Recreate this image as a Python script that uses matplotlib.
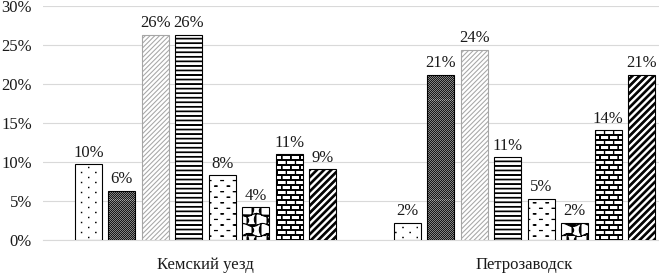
import numpy as np
import matplotlib
matplotlib.use("Agg")
import matplotlib.pyplot as plt
import matplotlib.hatch as mhatch
from matplotlib.path import Path
from matplotlib.ticker import FuncFormatter

# ---------------- data ----------------
categories = ["Кемский уезд", "Петрозаводск"]
values_kem = [9.7, 6.3, 26.3, 26.3, 8.3, 4.2, 11.0, 9.1]
values_ptz = [2.2, 21.2, 24.4, 10.6, 5.3, 2.2, 14.1, 21.2]
y_ticks = [0, 5, 10, 15, 20, 25, 30]

# ---------------- custom hatch patterns (tile = 100 px) ----------------
M, L, C = Path.MOVETO, Path.LINETO, Path.CLOSEPOLY


def _poly(pts):
    v = [(x / 100.0, y / 100.0) for x, y in pts] + [(0.0, 0.0)]
    c = [M] + [L] * (len(pts) - 1) + [C]
    return v, c


def _line(pts):
    v = [(x / 100.0, y / 100.0) for x, y in pts]
    c = [M] + [L] * (len(pts) - 1)
    return v, c


def _rect(x0, y0, x1, y1):
    return _poly([(x0, y0), (x1, y0), (x1, y1), (x0, y1)])


def _collect(items):
    vs, cs = [], []
    for v, c in items:
        vs.extend(v)
        cs.extend(c)
    return np.array(vs, float), np.array(cs, Path.code_type)


def pat_dots():
    items = []
    nrow, ncol = 20, 7
    dy, dx = 100 / nrow, 100 / ncol
    for r in range(nrow):
        for i in range(-1, ncol + 1):
            cx = (i + 0.5 * (r % 2)) * dx + 3
            cy = (r + 0.5) * dy
            s = 0.2
            items.append(_rect(cx - s, cy - s, cx + s, cy + s))
    return _collect(items)


def pat_checker():
    items = []
    for r in range(100):
        for i in range(50):
            x = 2 * i + (r % 2)
            items.append(_rect(x + 0.4, r + 0.4, x + 0.6, r + 0.6))
    return _collect(items)


def pat_thin_diag():
    items = []
    n = 21
    for k in range(-n, n + 1):
        c = k * 100 / n
        items.append(_line([(c, 0), (c + 100, 100)]))
    return _collect(items)


def pat_hlines():
    items = []
    n = 22
    for k in range(n):
        y = (k + 0.5) * 100 / n
        items.append(_rect(-2, y - 0.33, 102, y + 0.33))
    return _collect(items)


def pat_dashes():
    items = []
    nrow, ncol = 18, 8
    dy, dx = 100 / nrow, 100 / ncol
    for r in range(nrow):
        y = (r + 0.5) * dy
        for i in range(-1, ncol + 1):
            x = (i + 0.5 * (r % 2)) * dx + 2
            items.append(_rect(x, y - 0.1, x + 2.8, y + 0.1))
    return _collect(items)


def pat_wave():
    items = []
    nrow, ncol = 10, 10
    dy, dx = 100 / nrow, 100 / ncol
    xs = np.linspace(-2, 102, 105)

    def yline(j, x):
        return (j + 0.5) * dy + 1.6 * np.sin(2 * np.pi * x / (2 * dx) + 1.9 * j)

    for j in range(-1, nrow + 1):
        items.append(_line(list(zip(xs, yline(j, xs)))))
    t = np.linspace(0, 1, 12)
    for j in range(-1, nrow + 1):
        for i in range(-1, ncol + 1):
            x0 = (i + 0.5 * (j % 2)) * dx + 1.5
            xx = x0 + 2.2 * np.sin(np.pi * t) * (1 if (i + j) % 2 else -1)
            ya = yline(j, x0)
            yb = yline(j + 1, x0 + 2.2 * 0)
            yy = ya + (yb - ya) * t
            items.append(_line(list(zip(xx, yy))))
    return _collect(items)


def pat_brick():
    items = []
    nrow, ncol = 20, 11
    dy, dx = 100 / nrow, 100 / ncol
    for r in range(nrow + 1):
        y = r * dy
        items.append(_rect(-2, y - 0.15, 102, y + 0.15))
    for r in range(nrow):
        for i in range(-1, ncol + 1):
            x = (i + 0.5 * (r % 2)) * dx
            items.append(_rect(x - 0.15, r * dy, x + 0.15, (r + 1) * dy))
    return _collect(items)


def pat_thick_diag():
    items = []
    n = 14
    w = 2.3
    for k in range(-n, n + 1):
        c = k * 100 / n
        items.append(_poly([(c, 0), (c + w, 0), (c + w + 100, 100), (c + 100, 100)]))
    return _collect(items)


PATTERNS = {
    ".": pat_dots(),
    "x": pat_checker(),
    "\\": pat_thin_diag(),
    "-": pat_hlines(),
    "|": pat_dashes(),
    "o": pat_wave(),
    "+": pat_brick(),
    "*": pat_thick_diag(),
}


class CustomHatch(mhatch.HatchPatternBase):
    def __init__(self, hatch, density):
        self.parts = [PATTERNS[ch] for ch in (hatch or "") if ch in PATTERNS]
        self.num_vertices = sum(len(p[0]) for p in self.parts)

    def set_vertices_and_codes(self, vertices, codes):
        i = 0
        for v, c in self.parts:
            n = len(v)
            vertices[i:i + n] = v
            codes[i:i + n] = c
            i += n


mhatch._hatch_types[:] = [CustomHatch]

# ---------------- styles ----------------
hatches = [".", "x", "\\", "-", "|", "o", "+", "*"]
edgecolors = ["black", "black", "#a6a6a6", "black", "black", "black", "black", "black"]

plt.rcParams["font.family"] = ["Liberation Serif", "DejaVu Serif"]
plt.rcParams["hatch.linewidth"] = 0.75

fig = plt.figure(figsize=(6.59, 2.73), dpi=100)
ax = fig.add_axes([43 / 659, 33 / 273, 616 / 659, 234 / 273])

x = np.arange(len(categories))
pitch = 0.1049
width = 0.0846
text_color = "#1a1a1a"
fs = 12

for i in range(len(values_kem)):
    heights = [values_kem[i], values_ptz[i]]
    pos = x + (i - 3.5) * pitch
    bars = ax.bar(pos, heights, width=width, color="white",
                  edgecolor=edgecolors[i], linewidth=0.8, hatch=hatches[i], zorder=3)
    for b, h in zip(bars, heights):
        ax.annotate(f"{h:.0f}%", (b.get_x() + b.get_width() / 2, h),
                    xytext=(0, 2.5), textcoords="offset points",
                    ha="center", va="bottom", fontsize=fs, color=text_color)

ax.set_xlim(-0.5094, 1.4216)
ax.set_ylim(0, 30)
ax.set_yticks(y_ticks)
ax.yaxis.set_major_formatter(FuncFormatter(lambda v, p: f"{v:.0f}%"))
ax.set_xticks(x)
ax.set_xticklabels(categories)
ax.tick_params(axis="both", length=0, labelsize=fs, colors=text_color)
ax.tick_params(axis="y", pad=8)
ax.tick_params(axis="x", pad=12)
ax.grid(axis="y", color="#d9d9d9", linewidth=0.8, zorder=0)
ax.set_axisbelow(True)
for s in ["top", "right", "left"]:
    ax.spines[s].set_visible(False)
ax.spines["bottom"].set_color("#d9d9d9")
ax.spines["bottom"].set_linewidth(0.8)

fig.savefig("out.png", dpi=100)
